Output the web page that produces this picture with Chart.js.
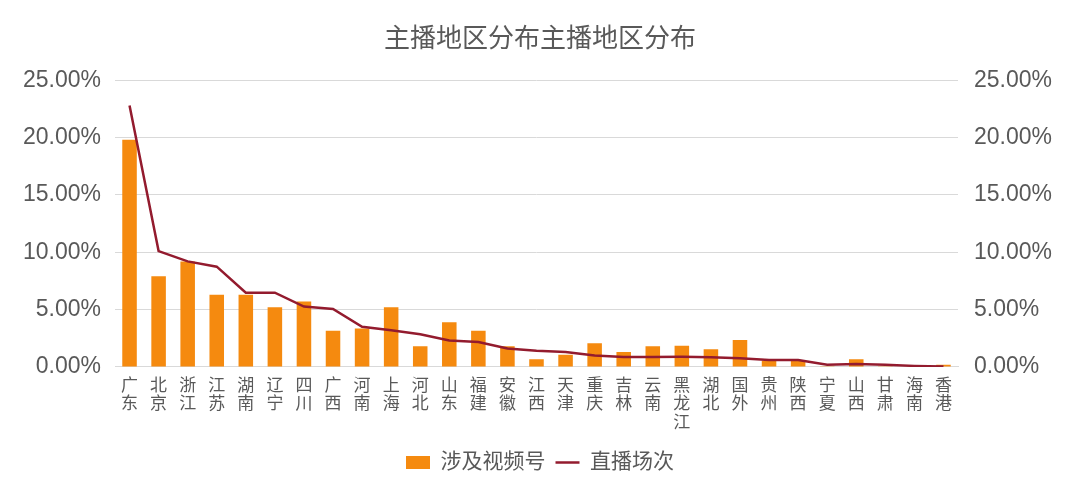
<!DOCTYPE html>
<html>
<head>
<meta charset="utf-8">
<script src="https://cdn.jsdelivr.net/npm/chart.js@4/dist/chart.umd.min.js"></script>
<style>
  html, body { margin: 0; padding: 0; background: #fff; }
  #wrap { width: 1080px; height: 493px; }
</style>
</head>
<body>
<div id="wrap"><canvas id="chart" width="1080" height="493"></canvas></div>
<script>
// 数据
const regions = ['广东', '北京', '浙江', '江苏', '湖南', '辽宁', '四川', '广西', '河南', '上海',
  '河北', '山东', '福建', '安徽', '江西', '天津', '重庆', '吉林', '云南', '黑龙江',
  '湖北', '国外', '贵州', '陕西', '宁夏', '山西', '甘肃', '海南', '香港'];
// 涉及视频号 (%)
const videoShare = [19.8, 7.9, 9.2, 6.3, 6.3, 5.2, 5.7, 3.15, 3.35, 5.2,
  1.8, 3.9, 3.15, 1.8, 0.67, 1.06, 2.07, 1.3, 1.8, 1.85,
  1.55, 2.35, 0.53, 0.53, 0.05, 0.67, 0.05, 0.02, 0.18];
// 直播场次 (%)
const liveShare = [22.8, 10.1, 9.2, 8.74, 6.47, 6.47, 5.26, 5.06, 3.5, 3.2,
  2.85, 2.3, 2.17, 1.6, 1.4, 1.3, 1.0, 0.86, 0.86, 0.88,
  0.85, 0.75, 0.6, 0.6, 0.18, 0.25, 0.18, 0.09, 0.03];
const yTicks = [0, 5, 10, 15, 20, 25];

const FONT = "'Liberation Sans', 'Noto Sans CJK SC', sans-serif";
const GREY = '#595959';

const ctx = document.getElementById('chart').getContext('2d');
new Chart(ctx, {
  data: {
    labels: regions.map(r => r.split('')),
    datasets: [
      {
        type: 'bar',
        label: '涉及视频号',
        data: videoShare,
        backgroundColor: '#F58A0F',
        categoryPercentage: 1,
        barPercentage: 0.5,
        yAxisID: 'y',
        pointStyle: 'rect',
        order: 2
      },
      {
        type: 'line',
        label: '直播场次',
        data: liveShare,
        borderColor: '#931B2E',
        backgroundColor: '#931B2E',
        borderWidth: 2.5,
        pointRadius: 0,
        tension: 0,
        yAxisID: 'y',
        pointStyle: 'line',
        order: 1
      }
    ]
  },
  options: {
    responsive: false,
    animation: false,
    layout: { padding: { left: 0, right: 0, top: 0, bottom: 10 } },
    plugins: {
      title: {
        display: true,
        text: '主播地区分布主播地区分布',
        color: GREY,
        font: { family: FONT, size: 26, weight: 'normal' },
        padding: { top: 24, bottom: 25 }
      },
      legend: {
        position: 'bottom',
        labels: {
          usePointStyle: true,
          pointStyleWidth: 24,
          boxHeight: 13,
          color: GREY,
          font: { family: FONT, size: 21 },
          padding: 10,
          sort: (a, b) => a.datasetIndex - b.datasetIndex
        }
      },
      tooltip: { enabled: false }
    },
    scales: {
      x: {
        grid: { display: false, drawTicks: false },
        border: { display: true, color: '#D9D9D9' },
        ticks: {
          color: GREY,
          font: { family: FONT, size: 17, lineHeight: 1.08 },
          maxRotation: 0,
          autoSkip: false,
          padding: 10
        }
      },
      y: {
        position: 'left',
        min: 0,
        max: 25,
        afterBuildTicks: s => { s.ticks = yTicks.map(v => ({ value: v })); },
        afterFit: s => { s.width = 115; },
        grid: { color: '#D9D9D9', drawTicks: false },
        border: { display: false },
        ticks: {
          color: GREY,
          font: { family: FONT, size: 23 },
          padding: 14,
          callback: v => v.toFixed(2) + '%'
        }
      },
      y2: {
        position: 'right',
        min: 0,
        max: 25,
        afterBuildTicks: s => { s.ticks = yTicks.map(v => ({ value: v })); },
        afterFit: s => { s.width = 122; },
        grid: { display: false, drawTicks: false },
        border: { display: false },
        ticks: {
          color: GREY,
          font: { family: FONT, size: 23 },
          padding: 16,
          callback: v => v.toFixed(2) + '%'
        }
      }
    }
  }
});
</script>
</body>
</html>
